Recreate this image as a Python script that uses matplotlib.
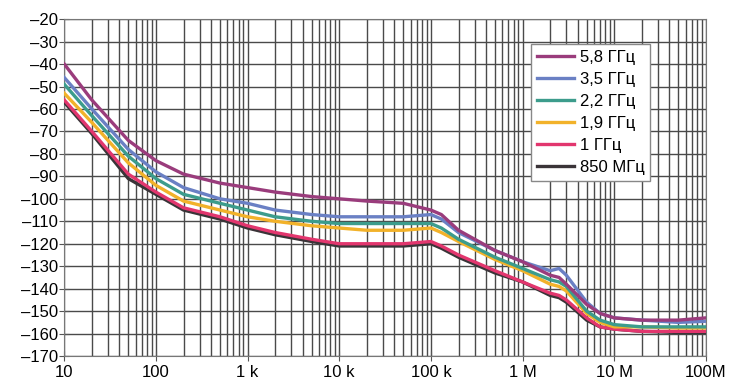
import matplotlib
matplotlib.use('Agg')
import matplotlib.pyplot as plt
from matplotlib.ticker import FixedLocator, LogLocator, NullFormatter

plt.rcParams['font.family'] = ['Liberation Sans', 'DejaVu Sans']

freq = [10, 20, 50, 100, 200, 500, 1e3, 2e3, 5e3, 1e4, 2e4, 5e4, 1e5, 1.3e5, 2e5,
        5e5, 1e6, 2e6, 2.5e6, 3e6, 5e6, 7e6, 1e7, 2e7, 5e7, 1e8]

noise_5_8 = [-40, -56, -74, -83, -89, -93, -95, -97, -99, -100, -101, -102, -105, -107, -114,
             -123, -128, -134, -135, -138, -147, -151, -153, -154, -154, -153]
noise_3_5 = [-46, -60, -78, -88, -95, -100, -102, -105, -107, -108, -108, -108, -107, -109, -115,
             -123, -128, -132, -131, -134, -146, -151, -153, -154, -155, -154.5]
noise_2_2 = [-49, -63, -81, -91, -98, -102, -105, -108, -110, -111, -111, -111, -111, -113, -118,
             -126, -131, -136, -137, -139, -150, -154, -156, -157, -157, -157]
noise_1_9 = [-53, -66, -84, -94, -101, -105, -108, -110, -112, -113, -114, -114, -113, -115, -119,
             -127, -132, -138, -139, -141, -151, -155, -157, -157, -157.5, -157.5]
noise_1_0 = [-56, -70, -89, -97, -104, -108, -112, -115, -118, -120, -120, -120, -119, -121, -125,
             -132, -137, -142, -143, -145, -153, -157, -158, -159, -159, -159]
noise_850 = [-57, -71, -91, -98, -105, -109, -113, -116, -119, -121, -121, -121, -120, -122, -126,
             -133, -137, -143, -144, -146, -154, -157, -158, -159, -159.5, -159.5]

labels = ['5,8 ГГц', '3,5 ГГц', '2,2 ГГц', '1,9 ГГц', '1 ГГц', '850 МГц']
series = [noise_5_8, noise_3_5, noise_2_2, noise_1_9, noise_1_0, noise_850]
colors = ['#9a3c7c', '#6a80c4', '#3c9c8c', '#f2b22a', '#e2366e', '#3a3438']

xticks = [10, 100, 1e3, 1e4, 1e5, 1e6, 1e7, 1e8]
xticklabels = ['10', '100', '1 k', '10 k', '100 k', '1 M', '10 M', '100M']
yticks = list(range(-170, -19, 10))

fig = plt.figure(figsize=(7.3, 3.9), dpi=100)
ax = fig.add_axes([0.088, 0.087, 0.879, 0.864])

handles = []
for i in range(len(series) - 1, -1, -1):
    h, = ax.plot(freq, series[i], color=colors[i], lw=2.4, label=labels[i], zorder=3)
    handles.append(h)
handles = handles[::-1]

ax.set_xscale('log')
ax.set_xlim(10, 1e8)
ax.set_ylim(-170, -20)
ax.xaxis.set_major_locator(FixedLocator(xticks))
ax.set_xticklabels(xticklabels)
ax.xaxis.set_minor_locator(LogLocator(base=10, subs=range(2, 10), numticks=20))
ax.xaxis.set_minor_formatter(NullFormatter())
ax.set_yticks(yticks)
ax.set_yticklabels([('–%d' % -v) for v in yticks])

ax.grid(True, which='major', color='#4a4a4a', lw=1.0, zorder=1)
ax.grid(True, which='minor', axis='x', color='#4a4a4a', lw=1.0, zorder=1)
for s in ax.spines.values():
    s.set_color('#777777')
ax.tick_params(axis='y', which='major', direction='inout', length=7, color='#555555',
               labelsize=12, pad=1)
ax.tick_params(axis='x', which='major', direction='inout', length=7, color='#555555',
               labelsize=12, pad=3)
ax.tick_params(axis='x', which='minor', length=0)

leg = ax.legend(handles=handles, loc='upper left', bbox_to_anchor=(0.728, 0.925),
                fontsize=12, frameon=True, fancybox=False, framealpha=1,
                edgecolor='#888888', handlelength=2.2, handletextpad=0.35,
                labelspacing=0.42, borderpad=0.35, borderaxespad=0)
leg.get_frame().set_linewidth(1.0)
leg.set_zorder(5)

fig.savefig('out.png', dpi=100)
